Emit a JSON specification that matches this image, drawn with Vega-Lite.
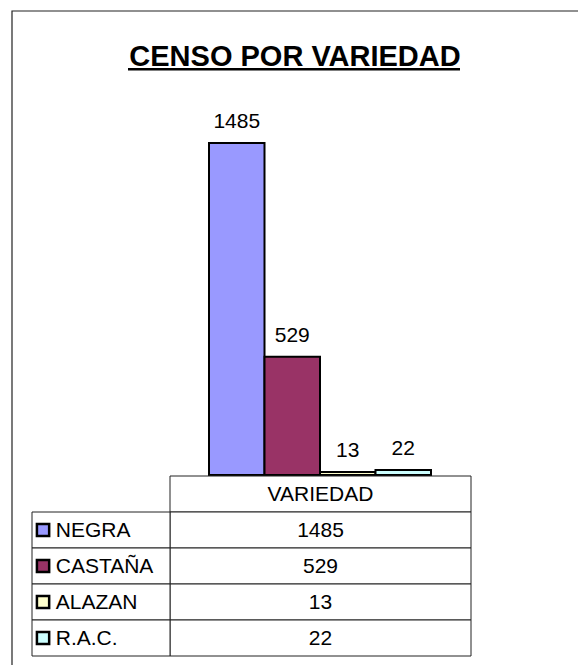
{
  "$schema": "https://vega.github.io/schema/vega-lite/v6.json",
  "width": 566,
  "height": 654,
  "autosize": {"type": "none"},
  "padding": {"left": 12, "top": 11, "right": 0, "bottom": 0},
  "background": "white",
  "config": {
    "view": {"stroke": null},
    "font": "Liberation Sans",
    "text": {"font": "Liberation Sans", "fontSize": 21, "color": "black"}
  },
  "title": {
    "text": "CENSO POR VARIEDAD",
    "font": "Liberation Sans",
    "fontSize": 29,
    "fontWeight": "bold",
    "color": "black",
    "anchor": "middle",
    "offset": -62
  },
  "datasets": {
    "titulo": [{"titulo": "CENSO POR VARIEDAD"}],
    "series": [
      {"serie": "NEGRA", "grupo": "VARIEDAD", "valor": 1485},
      {"serie": "CASTAÑA", "grupo": "VARIEDAD", "valor": 529},
      {"serie": "ALAZAN", "grupo": "VARIEDAD", "valor": 13},
      {"serie": "R.A.C.", "grupo": "VARIEDAD", "valor": 22}
    ],
    "tabla": [
      {"fila": "VARIEDAD", "grupo": "VARIEDAD", "texto": "VARIEDAD"},
      {"fila": "NEGRA", "grupo": "VARIEDAD", "texto": "1485"},
      {"fila": "CASTAÑA", "grupo": "VARIEDAD", "texto": "529"},
      {"fila": "ALAZAN", "grupo": "VARIEDAD", "texto": "13"},
      {"fila": "R.A.C.", "grupo": "VARIEDAD", "texto": "22"}
    ]
  },
  "resolve": {"scale": {"x": "independent", "y": "independent"}},
  "layer": [
    {
      "data": {"name": "titulo"},
      "mark": {"type": "rect", "fill": "white", "fillOpacity": 0, "stroke": "#222", "strokeWidth": 1.2},
      "encoding": {
        "x": {"field": "titulo", "type": "nominal", "axis": null,
              "scale": {"domain": ["CENSO POR VARIEDAD"], "range": [0, 567.5], "paddingInner": 0, "paddingOuter": 0}},
        "y": {"field": "titulo", "type": "nominal", "axis": null,
              "scale": {"domain": ["CENSO POR VARIEDAD"], "range": [0, 656], "paddingInner": 0, "paddingOuter": 0}}
      }
    },
    {
      "data": {"name": "titulo"},
      "mark": {"type": "rect", "fill": "black"},
      "encoding": {
        "x": {"field": "titulo", "type": "nominal", "axis": null,
              "scale": {"domain": ["CENSO POR VARIEDAD"], "range": [116, 448], "paddingInner": 0, "paddingOuter": 0}},
        "y": {"field": "titulo", "type": "nominal", "axis": null,
              "scale": {"domain": ["CENSO POR VARIEDAD"], "range": [57, 59.5], "paddingInner": 0, "paddingOuter": 0}}
      }
    },
    {
      "data": {"name": "series"},
      "encoding": {
        "x": {"field": "serie", "type": "nominal", "axis": null,
              "scale": {"domain": ["NEGRA", "CASTAÑA", "ALAZAN", "R.A.C."], "range": [197, 419], "paddingInner": 0, "paddingOuter": 0}},
        "y": {"field": "valor", "type": "quantitative", "axis": null,
              "scale": {"domain": [0, 1485], "range": [464, 132], "nice": false, "zero": true}}
      },
      "layer": [
        {
          "mark": {"type": "bar", "stroke": "black", "strokeWidth": 2},
          "encoding": {
            "color": {"field": "serie", "type": "nominal", "legend": null,
                      "scale": {"domain": ["NEGRA", "CASTAÑA", "ALAZAN", "R.A.C."], "range": ["#9999FF", "#993366", "#FFFFCC", "#CCFFFF"]}}
          }
        },
        {
          "mark": {"type": "text", "baseline": "alphabetic", "dy": -15, "fontSize": 21},
          "encoding": {"text": {"field": "valor", "type": "quantitative"}}
        }
      ]
    },
    {
      "data": {"name": "tabla"},
      "encoding": {
        "x": {"field": "grupo", "type": "nominal", "axis": null,
              "scale": {"domain": ["VARIEDAD"], "range": [158, 459], "paddingInner": 0, "paddingOuter": 0}},
        "y": {"field": "fila", "type": "nominal", "axis": null,
              "scale": {"domain": ["VARIEDAD", "NEGRA", "CASTAÑA", "ALAZAN", "R.A.C."], "range": [465, 645], "paddingInner": 0, "paddingOuter": 0}}
      },
      "layer": [
        {"mark": {"type": "rect", "fill": "white", "stroke": "#222", "strokeWidth": 1}},
        {"mark": {"type": "text", "baseline": "middle", "align": "center", "dy": 1, "fontSize": 21},
         "encoding": {"text": {"field": "texto", "type": "nominal"}}}
      ]
    },
    {
      "data": {"name": "series"},
      "encoding": {
        "y": {"field": "serie", "type": "nominal", "axis": null,
              "scale": {"domain": ["VARIEDAD", "NEGRA", "CASTAÑA", "ALAZAN", "R.A.C."], "range": [465, 645], "paddingInner": 0, "paddingOuter": 0}}
      },
      "layer": [
        {"mark": {"type": "rect", "fill": "white", "stroke": "#222", "strokeWidth": 1},
         "encoding": {"x": {"field": "grupo", "type": "nominal", "axis": null,
                            "scale": {"domain": ["VARIEDAD"], "range": [20, 158], "paddingInner": 0, "paddingOuter": 0}}}},
        {"mark": {"type": "point", "shape": "square", "filled": true, "size": 150, "stroke": "black", "strokeWidth": 2.5, "opacity": 1},
         "encoding": {
           "x": {"field": "grupo", "type": "nominal", "axis": null, "bandPosition": 0.08,
                 "scale": {"domain": ["VARIEDAD"], "range": [20, 158], "paddingInner": 0, "paddingOuter": 0}},
           "color": {"field": "serie", "type": "nominal", "legend": null,
                     "scale": {"domain": ["NEGRA", "CASTAÑA", "ALAZAN", "R.A.C."], "range": ["#9999FF", "#993366", "#FFFFCC", "#CCFFFF"]}}
         }},
        {"mark": {"type": "text", "baseline": "middle", "align": "left", "dy": 1, "fontSize": 21},
         "encoding": {
           "x": {"field": "grupo", "type": "nominal", "axis": null, "bandPosition": 0.172,
                 "scale": {"domain": ["VARIEDAD"], "range": [20, 158], "paddingInner": 0, "paddingOuter": 0}},
           "text": {"field": "serie", "type": "nominal"}
         }}
      ]
    }
  ]
}
